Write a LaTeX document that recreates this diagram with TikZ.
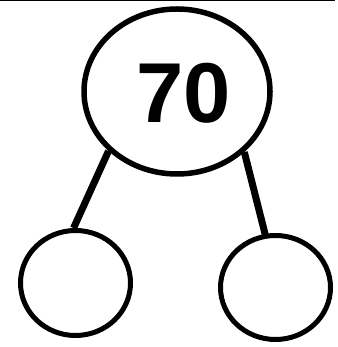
\documentclass[tikz,border=0pt]{standalone}
\usepackage{fontspec}
\setmainfont{Liberation Sans}
\usetikzlibrary{shapes.geometric}
\begin{document}
\begin{tikzpicture}[x=1pt,y=1pt,
  bubble/.style={ellipse,draw=black,line width=5pt,inner sep=0pt,fill=white},
  link/.style={draw=black,line width=7pt}]
\useasboundingbox (0,0) rectangle (337,347);
\coordinate (tl) at (0,346.5);
\coordinate (tr) at (335,346.5);
\draw[line width=1.2pt] (tl) -- (tr);
\node[bubble,line width=5.5pt,minimum width=186pt,minimum height=165pt] (top) at (177,255.5) {};
\node[bubble,minimum width=110pt,minimum height=105pt] (L) at (75.5,64) {};
\node[bubble,minimum width=110pt,minimum height=104pt] (R) at (275.5,59.5) {};
\coordinate (re) at ([yshift=-4pt]R.100);
\draw[link] (top.221) -- (L.92);
\draw[link] (top.318) -- (re);
\node[anchor=base,inner sep=0pt,font=\fontsize{85}{85}\selectfont\bfseries] (num) at (183.5,224) {70};
\end{tikzpicture}
\end{document}
